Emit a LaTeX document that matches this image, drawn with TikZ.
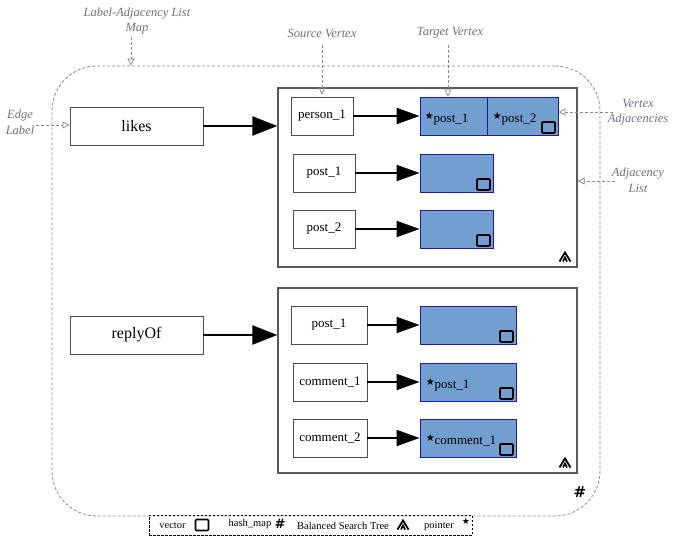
\documentclass[tikz,border=0pt]{standalone}
\usepackage{fontspec}
\setmainfont{Liberation Serif}
\newfontfamily\dejavu{DejaVu Sans}
\usetikzlibrary{arrows.meta}
\definecolor{bluefill}{HTML}{729FCF}
\definecolor{blueline}{HTML}{1C1CA0}
\definecolor{annotgray}{HTML}{707080}
\definecolor{dashgray}{HTML}{8A8A8A}
\newcommand{\ptrstar}{{\dejavu\fontsize{10}{10}\selectfont\raisebox{3pt}{★}}}
\begin{document}
\begin{tikzpicture}[x=1pt,y=-1pt,
  lblbox/.style={draw=black!70, line width=0.9pt, fill=white, inner sep=0pt, minimum width=133pt, minimum height=38pt, font=\fontsize{16}{16}\selectfont},
  vbox/.style={draw=black!70, line width=0.9pt, fill=white, inner sep=0pt, minimum height=38pt, font=\fontsize{13}{13}\selectfont},
  contbox/.style={draw=black!65, line width=1.3pt, inner sep=0pt, minimum width=299pt},
  bluecell/.style={draw=blueline, fill=bluefill, line width=0.9pt, inner sep=0pt, minimum height=38pt},
  celltext/.style={anchor=west, inner sep=0pt, font=\fontsize{13}{13}\selectfont},
  bigarrow/.style={line width=2.3pt, -{Triangle[length=25pt,width=19pt]}},
  smallarrow/.style={line width=2pt, -{Triangle[length=23pt,width=16pt]}},
  annot/.style={font=\itshape\fontsize{12.5}{15.5}\selectfont, text=annotgray, align=center, inner sep=0pt},
  annarrow/.style={draw=dashgray, dash pattern=on 3pt off 2pt, line width=0.8pt, -{Triangle[open,length=7pt,width=7pt]}},
  legtext/.style={font=\fontsize{10.5}{10.5}\selectfont, inner sep=0pt},
  vecic/.pic={\draw[line width=1.7pt, rounded corners=1pt] (-6.5,-5.5) rectangle (6.5,5.5);},
  treeic/.pic={\draw[line width=1.8pt] (-5.5,4.5)--(0,-4.5)--(5.5,4.5); \draw[line width=1.6pt] (-2,4.5)--(0,0.5)--(2,4.5);}
]
\useasboundingbox (0,0) rectangle (677,548);

% outer map
\node[draw=dashgray, dash pattern=on 3pt off 2pt, line width=0.8pt, rounded corners=45pt, minimum width=548pt, minimum height=450pt, inner sep=0pt] (lamap) at (326,291) {};
\node[font=\dejavu\bfseries\fontsize{15}{15}\selectfont, inner sep=0pt] (hashmap) at (580,492) {\#};

% edge labels
\node[lblbox] (likes) at (136.5,126) {likes};
\node[lblbox] (replyOf) at (136.5,335) {replyOf};

% containers
\node[contbox, minimum height=179pt] (cont1) at (427.5,177.5) {};
\node[contbox, minimum height=185pt] (cont2) at (427.5,380.5) {};
\pic at (565,257) {treeic};
\pic at (565,463) {treeic};

\draw[bigarrow] (likes.east) -- (likes.east -| cont1.west);
\draw[bigarrow] (replyOf.east) -- (replyOf.east -| cont2.west);

% container 1
\node[vbox, minimum width=62pt] (person1) at (322,116) {person\_1};
\node[vbox, minimum width=62pt] (post1a) at (324,173) {post\_1};
\node[vbox, minimum width=62pt] (post2a) at (324,229) {post\_2};

\node[bluecell, minimum width=67pt] (adjA1) at (453.5,116) {};
\node[bluecell, minimum width=71pt] (adjA2) at (522.5,116) {};
\node[bluecell, minimum width=73pt] (adjB) at (456.5,173) {};
\node[bluecell, minimum width=73pt] (adjC) at (456.5,229) {};
\node[celltext] (tA1) at ([xshift=5pt,yshift=-2.5pt]adjA1.west) {\ptrstar post\_1};
\node[celltext] (tA2) at ([xshift=6pt,yshift=-2.5pt]adjA2.west) {\ptrstar post\_2};
\pic at ([xshift=-10pt,yshift=8pt]adjA2.south east) {vecic};
\pic at ([xshift=-10pt,yshift=8pt]adjB.south east) {vecic};
\pic at ([xshift=-10pt,yshift=8pt]adjC.south east) {vecic};

\draw[smallarrow] (person1.east) -- (adjA1.west);
\draw[smallarrow] (post1a.east) -- (adjB.west);
\draw[smallarrow] (post2a.east) -- (adjC.west);

% container 2
\node[vbox, minimum width=76pt] (post1b) at (329,325) {post\_1};
\node[vbox, minimum width=74pt] (comment1) at (330,382) {comment\_1};
\node[vbox, minimum width=74pt] (comment2) at (330,438) {comment\_2};

\node[bluecell, minimum width=96pt] (adjD) at (468,325) {};
\node[bluecell, minimum width=96pt] (adjE) at (468,382) {};
\node[bluecell, minimum width=96pt] (adjF) at (468,438) {};
\node[celltext] (tE) at ([xshift=6pt,yshift=-2.5pt]adjE.west) {\ptrstar post\_1};
\node[celltext] (tF) at ([xshift=6pt,yshift=-2.5pt]adjF.west) {\ptrstar comment\_1};
\pic at ([xshift=-10pt,yshift=8pt]adjD.south east) {vecic};
\pic at ([xshift=-10pt,yshift=8pt]adjE.south east) {vecic};
\pic at ([xshift=-10pt,yshift=8pt]adjF.south east) {vecic};

\draw[smallarrow] (post1b.east) -- (adjD.west);
\draw[smallarrow] (comment1.east) -- (adjE.west);
\draw[smallarrow] (comment2.east) -- (adjF.west);

% annotations
\node[annot] (aMap) at (137,21) {Label-Adjacency List\\Map};
\coordinate (aMapS) at (131,37);
\draw[annarrow] (aMapS) -- (aMapS |- lamap.north);

\node[annot] (aEdge) at (20,122) {Edge\\Label};
\coordinate (aEdgeS) at (36,125);
\draw[annarrow] (aEdgeS) -- (aEdgeS -| likes.west);

\node[annot] (aSrc) at (322,33) {Source Vertex};
\coordinate (aSrcS) at (322,45);
\draw[annarrow] (aSrcS) -- ([yshift=2pt]person1.north);

\node[annot] (aTgt) at (450,33) {Target Vertex};
\coordinate (aTgtS) at (448,45);
\draw[annarrow] (aTgtS) -- (aTgtS |- adjA1.north);

\node[annot] (aVA) at (638,112) {Vertex\\Adjacencies};
\coordinate (aVAS) at (613,112);
\draw[annarrow] (aVAS) -- (aVAS -| adjA2.east);

\node[annot] (aAL) at (638,180) {Adjacency\\List};
\coordinate (aALS) at (615,181);
\draw[annarrow] (aALS) -- (aALS -| cont1.east);

% legend
\node[draw=black, dash pattern=on 2.5pt off 1.5pt, line width=0.7pt, minimum width=323pt, minimum height=20pt, inner sep=0pt] (legend) at (310.5,525) {};
\node[legtext] (lgVec) at (172.5,526) {vector};
\pic at (202,525) {vecic};
\node[legtext] (lgHash) at (250,524) {hash\_map};
\node[font=\dejavu\bfseries\fontsize{13}{13}\selectfont, inner sep=0pt] (lgHashS) at (280,524) {\#};
\node[legtext] (lgTree) at (343,526) {Balanced Search Tree};
\pic at (403,525) {treeic};
\node[legtext] (lgPtr) at (439,526) {pointer};
\node[font=\dejavu\fontsize{9}{9}\selectfont, inner sep=0pt] (lgStar) at (466,521) {★};
\end{tikzpicture}
\end{document}
